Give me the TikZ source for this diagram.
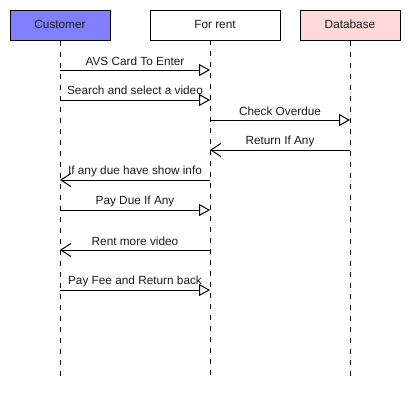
\documentclass[tikz,border=0pt]{standalone}
\usepackage{fontspec}
\setmainfont{Liberation Sans}
\usetikzlibrary{arrows.meta}
\definecolor{custfill}{HTML}{7F7FFF}
\definecolor{dbfill}{HTML}{FFD9D9}
\definecolor{txt}{HTML}{1A1A1A}
\begin{document}
\begin{tikzpicture}[x=1pt,y=-1pt,
  actor/.style={draw=black,line width=1pt,minimum height=30pt,inner sep=0pt,text=txt,text height=8.5pt,text depth=2.5pt,font=\fontsize{11.8}{13}\selectfont},
  lifeline/.style={line width=1pt,dash pattern=on 5pt off 6pt},
  callmsg/.style={line width=1pt,-{Triangle[open,length=11pt,width=12pt,line width=1pt]}},
  retmsg/.style={line width=1pt,-{Straight Barb[length=10pt,width=13pt,line width=1pt]}},
  lbl/.style={text=txt,font=\fontsize{11.8}{13}\selectfont,inner sep=0pt,anchor=center,fill=none}]
\useasboundingbox (0,0) rectangle (410,410);
% actors
\node[actor,fill=custfill,minimum width=100pt] (cust) at (60,25) {Customer};
\node[actor,fill=white,minimum width=130pt] (rent) at (215,25) {For rent};
\node[actor,fill=dbfill,minimum width=100pt] (db) at (350,25) {Database};
% lifeline ends
\coordinate (custend) at (60,380);
\coordinate (rentend) at (210,380);
\coordinate (dbend) at (350,380);
\coordinate (renttop) at (210,40);
\draw[lifeline] (cust.south) -- (custend);
\draw[lifeline] (renttop) -- (rentend);
\draw[lifeline] (db.south) -- (dbend);
% message anchor points
\foreach \n/\y in {1/70,2/100,3/120,4/150,5/180,6/210,7/250,8/290}{
  \coordinate (c\n) at (60,\y);
  \coordinate (r\n) at (210,\y);
  \coordinate (d\n) at (350,\y);
}
\draw[callmsg] (c1) -- node[lbl,yshift=8.5pt] (m1) {AVS Card To Enter} (r1);
\draw[callmsg] (c2) -- node[lbl,yshift=9.5pt] (m2) {Search and select a video} (r2);
\draw[callmsg] (r3) -- node[lbl,yshift=8.5pt] (m3) {Check Overdue} (d3);
\draw[retmsg] (d4) -- node[lbl,yshift=8.5pt] (m4) {Return If Any} (r4);
\draw[retmsg] (r5) -- node[lbl,yshift=8.5pt] (m5) {If any due have show info} (c5);
\draw[callmsg] (c6) -- node[lbl,yshift=8.5pt] (m6) {Pay Due If Any} (r6);
\draw[retmsg] (r7) -- node[lbl,yshift=8.5pt] (m7) {Rent more video} (c7);
\draw[callmsg] (c8) -- node[lbl,yshift=8.5pt] (m8) {Pay Fee and Return back} (r8);
\end{tikzpicture}
\end{document}
